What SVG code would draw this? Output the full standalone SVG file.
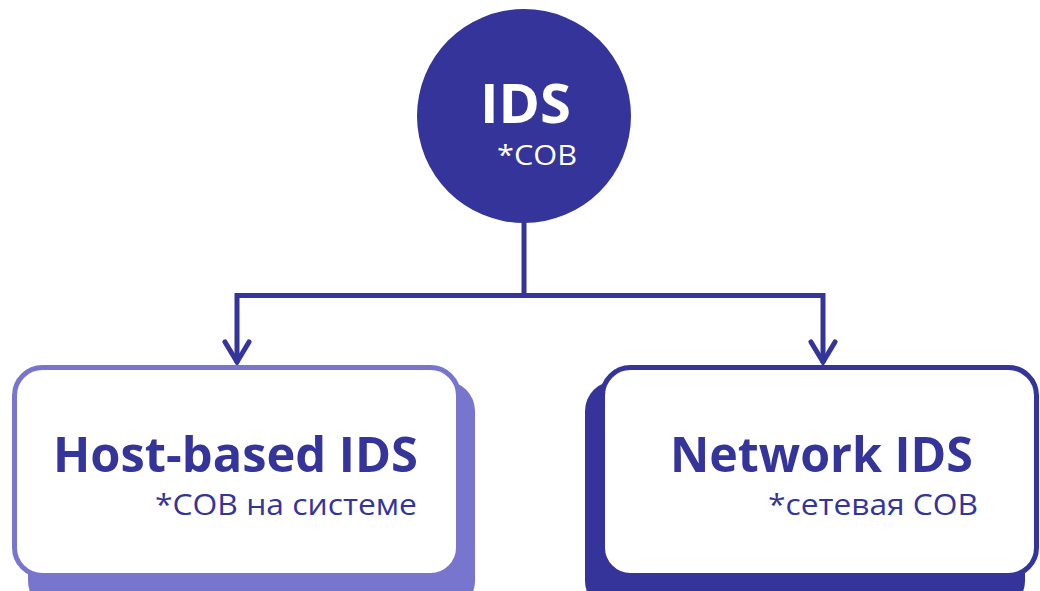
<svg xmlns="http://www.w3.org/2000/svg" width="1040" height="591" viewBox="0 0 1040 591">
<style>
.dark{fill:#35349A}
.light{fill:#7875CE}
.title{font-family:"Open Sans","Liberation Sans",sans-serif;font-weight:bold}
.sub{font-family:"Open Sans","Liberation Sans",sans-serif;font-weight:normal}
.conn{fill:none;stroke:#35349A;stroke-width:5}
</style>
<defs>
<marker id="chev" markerUnits="userSpaceOnUse" viewBox="-26 -16 30 32" refX="0" refY="0" markerWidth="30" markerHeight="32" orient="auto">
<path d="M-21,-12 L-1,0 L-21,12" fill="none" stroke="#35349A" stroke-width="5" stroke-linecap="round" stroke-linejoin="miter"/>
</marker>
</defs>
<g id="connectors">
<path class="conn" d="M524,222 V295.5"/>
<path class="conn" d="M524,295.5 H237 V363" marker-end="url(#chev)"/>
<path class="conn" d="M524,295.5 H823 V363" marker-end="url(#chev)"/>
</g>
<g id="node-ids">
<circle cx="524" cy="116" r="107" class="dark"/>
<text x="571" y="123" text-anchor="end" class="title" font-size="54" fill="#fff" textLength="91" lengthAdjust="spacingAndGlyphs">IDS</text>
<text x="577" y="165" text-anchor="end" class="sub" font-size="28" fill="#fff" textLength="80" lengthAdjust="spacingAndGlyphs">*СОВ</text>
</g>
<g id="node-host">
<rect x="28" y="381" width="447" height="230" rx="30" class="light"/>
<rect x="14.5" y="367.5" width="444" height="208" rx="28" fill="#fff" stroke="#7875CE" stroke-width="5"/>
<text x="418" y="472" text-anchor="end" class="title" font-size="48" fill="#35349A" textLength="365" lengthAdjust="spacingAndGlyphs">Host-based IDS</text>
<text x="417" y="515" text-anchor="end" class="sub" font-size="30" fill="#35349A" textLength="262" lengthAdjust="spacingAndGlyphs">*СОВ на системе</text>
</g>
<g id="node-network">
<rect x="585" y="381" width="440" height="230" rx="30" class="dark"/>
<rect x="602.5" y="367.5" width="434" height="208" rx="28" fill="#fff" stroke="#35349A" stroke-width="5"/>
<text x="973" y="472" text-anchor="end" class="title" font-size="48" fill="#35349A" textLength="303" lengthAdjust="spacingAndGlyphs">Network IDS</text>
<text x="978" y="515" text-anchor="end" class="sub" font-size="30" fill="#35349A" textLength="210" lengthAdjust="spacingAndGlyphs">*сетевая СОВ</text>
</g>
</svg>
